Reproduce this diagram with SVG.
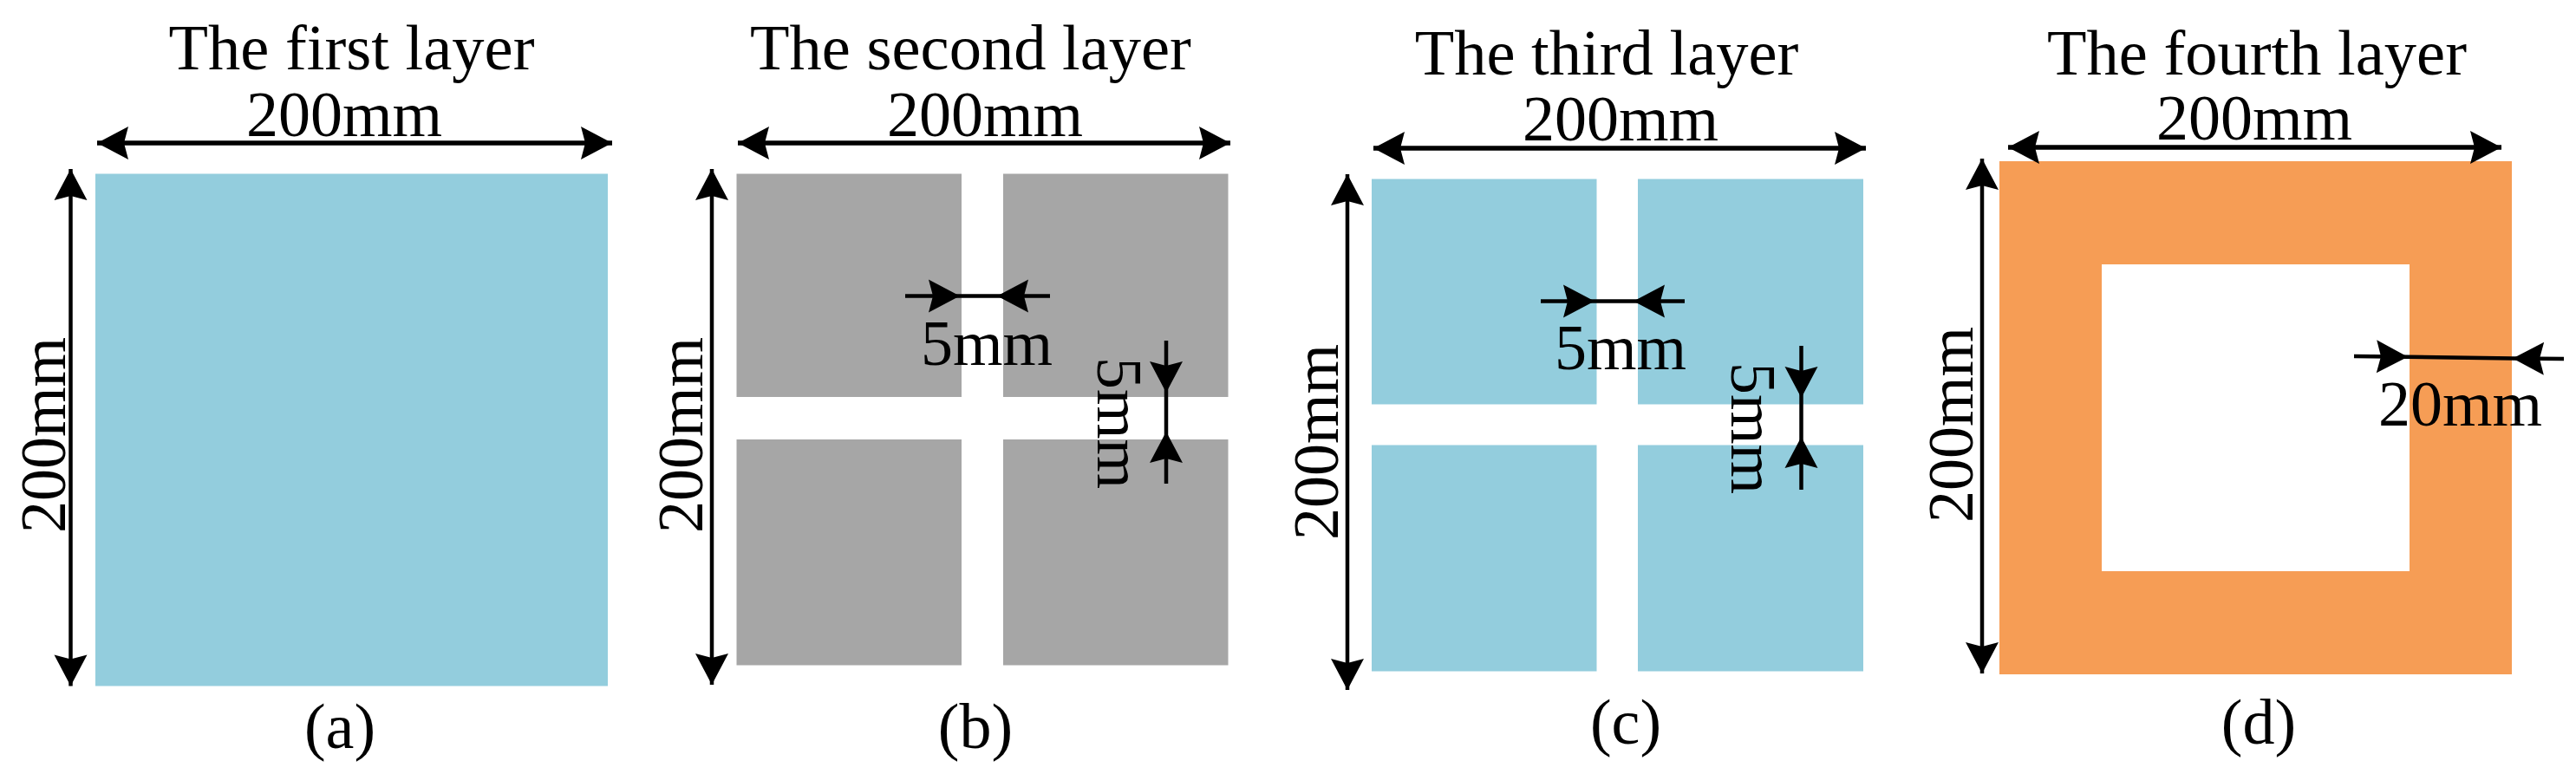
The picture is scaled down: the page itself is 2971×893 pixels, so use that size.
<svg xmlns="http://www.w3.org/2000/svg" width="2971" height="893" viewBox="0 0 2971 893">
<style>
text{font-family:"Liberation Serif","Times New Roman",serif;font-size:74px;fill:#000}
.m{text-anchor:middle}
.t{font-size:74.5px}
.blue{fill:#93CDDD}
.gray{fill:#A6A6A6}
.orange{fill:#F69D55}
.a{stroke:#000;stroke-width:4.5;fill:none}
.h{stroke-width:5.5}
.d{marker-start:url(#headS);marker-end:url(#head)}
.e{marker-end:url(#head)}
</style>
<defs>
<marker id="head" markerUnits="userSpaceOnUse" markerWidth="44" markerHeight="44" refX="40" refY="22" orient="auto"><path d="M40,22 L4,3 L9,22 L4,41 Z" fill="#000"/></marker>
<marker id="headS" markerUnits="userSpaceOnUse" markerWidth="44" markerHeight="44" refX="4" refY="22" orient="auto"><path d="M4,22 L40,3 L35,22 L40,41 Z" fill="#000"/></marker>
</defs>
<rect width="2971" height="893" fill="#fff"/>
<g id="panel-a">
<rect class="blue" x="110" y="200.5" width="591" height="591"/>
<text class="t m" x="405.500" y="80">The first layer</text>
<text class="m" x="397" y="156.500">200mm</text>
<text class="m" transform="translate(75 502) rotate(-90)">200mm</text>
<text class="m" x="392" y="863">(a)</text>
</g>
<g id="panel-b">
<rect class="gray" x="849.500" y="200.500" width="259.500" height="257.500"/>
<rect class="gray" x="1157" y="200.500" width="259.500" height="257.500"/>
<rect class="gray" x="849.500" y="507" width="259.500" height="260.500"/>
<rect class="gray" x="1157" y="507" width="259.500" height="260.500"/>
<text class="t m" x="1119.500" y="80">The second layer</text>
<text class="m" x="1136" y="156.500">200mm</text>
<text class="m" transform="translate(810 502) rotate(-90)">200mm</text>
<text x="1062" y="421">5mm</text>
<text transform="translate(1266 412) rotate(90)">5mm</text>
<text class="m" x="1125" y="863">(b)</text>
</g>
<g id="panel-c">
<rect class="blue" x="1582" y="206.500" width="259.500" height="260"/>
<rect class="blue" x="1889" y="206.500" width="260" height="260"/>
<rect class="blue" x="1582" y="513.500" width="259.500" height="261"/>
<rect class="blue" x="1889" y="513.500" width="260" height="261"/>
<text class="t m" x="1853" y="85.500">The third layer</text>
<text class="m" x="1869" y="162">200mm</text>
<text class="m" transform="translate(1543 510) rotate(-90)">200mm</text>
<text x="1793" y="426">5mm</text>
<text transform="translate(1997 418) rotate(90)">5mm</text>
<text class="m" x="1875" y="858">(c)</text>
</g>
<g id="panel-d">
<path class="orange" fill-rule="evenodd" d="M2306,186H2897V778H2306Z M2424,305V659H2779V305Z"/>
<text class="t m" x="2603" y="86">The fourth layer</text>
<text class="m" x="2600" y="161">200mm</text>
<text class="m" transform="translate(2275 490) rotate(-90)">200mm</text>
<text x="2743" y="491">20mm</text>
<text class="m" x="2605" y="858">(d)</text>
</g>
<g id="connectors">
<line class="a h d" x1="112" y1="165" x2="706" y2="165"/>
<line class="a d" x1="81.500" y1="195" x2="81.500" y2="791.500"/>
<line class="a h d" x1="851" y1="165" x2="1419" y2="165"/>
<line class="a d" x1="821" y1="195" x2="821" y2="790"/>
<line class="a e" x1="1044" y1="341.500" x2="1107" y2="341.500"/>
<line class="a" x1="1107" y1="341.500" x2="1150" y2="341.500"/>
<line class="a e" x1="1211" y1="341.500" x2="1150" y2="341.500"/>
<line class="a e" x1="1345" y1="393" x2="1345" y2="453"/>
<line class="a" x1="1345" y1="453" x2="1345" y2="498"/>
<line class="a e" x1="1345" y1="558" x2="1345" y2="498"/>
<line class="a h d" x1="1584" y1="171" x2="2152" y2="171"/>
<line class="a d" x1="1554" y1="201" x2="1554" y2="796"/>
<line class="a e" x1="1777" y1="347.500" x2="1839" y2="347.500"/>
<line class="a" x1="1839" y1="347.500" x2="1884" y2="347.500"/>
<line class="a e" x1="1943" y1="347.500" x2="1884" y2="347.500"/>
<line class="a e" x1="2077.500" y1="399" x2="2077.500" y2="459"/>
<line class="a" x1="2077.500" y1="459" x2="2077.500" y2="504"/>
<line class="a e" x1="2077.500" y1="565" x2="2077.500" y2="504"/>
<line class="a h d" x1="2316" y1="170" x2="2885" y2="170"/>
<line class="a d" x1="2286" y1="183" x2="2286" y2="777"/>
<line class="a e" x1="2715" y1="411" x2="2777" y2="411.700"/>
<line class="a" x1="2777" y1="411.700" x2="2898" y2="413.500"/>
<line class="a e" x1="2957" y1="414" x2="2898" y2="413.500"/>
</g>
</svg>
